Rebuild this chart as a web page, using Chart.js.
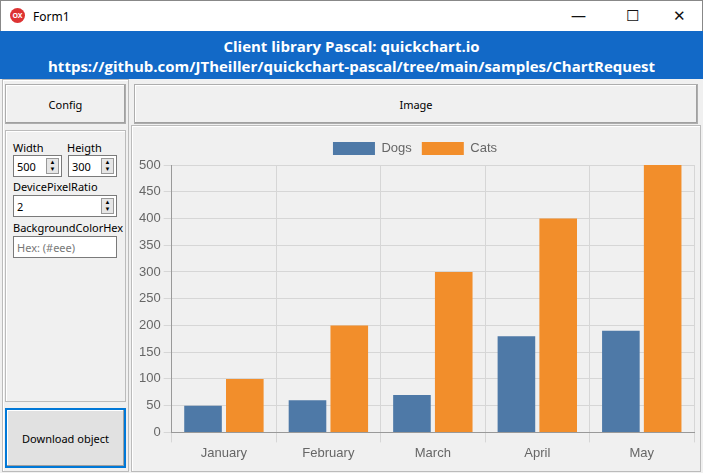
<!DOCTYPE html>
<html>
<head>
<meta charset="utf-8">
<script src="https://cdn.jsdelivr.net/npm/chart.js@4"></script>
<style>
body { margin:0; width:703px; height:473px; background:#f0f0f0; font-family:"Segoe UI","Noto Sans",sans-serif; font-size:12px; position:relative; overflow:hidden; }
.abs { position:absolute; box-sizing:border-box; }
#titlebar { left:0; top:0; width:703px; height:31px; background:#fff; border:1px solid #888; border-bottom:none; }
#titlebar .t { position:absolute; left:32px; top:7px; font-size:12px; }
#titlebar .ic { position:absolute; left:9px; top:7px; width:15px; height:15px; border-radius:50%; background:#d33; color:#fff; font-size:7px; text-align:center; line-height:15px; font-weight:bold; }
#titlebar .ctl { position:absolute; top:4px; font-size:15px; color:#111; }
#header { left:0; top:31px; width:703px; height:48px; background:#1269c7; color:#fff; text-align:center; font-weight:bold; font-size:15px; line-height:20px; padding-top:5px; font-family:"Open Sans","Noto Sans",sans-serif; }
.btn { background:#f0f0f0; border:1px solid #adadad; box-shadow: inset -1px -1px #a0a0a0, inset 1px 1px #fff; text-align:center; }
.panel { border:1px solid #bbb; box-shadow: inset 1px 1px #fff; }
.lbl { position:absolute; font-size:11px; }
.inp { position:absolute; height:22px; background:#fff; border:1px solid #7a7a7a; font-size:11px; padding:3px 3px; box-sizing:border-box; }
.spin { position:absolute; right:2px; top:2px; width:13px; height:16px; background:#e6e6e6; border:1px solid #999; box-sizing:border-box; font-size:6px; line-height:7px; text-align:center; }
</style>
</head>
<body>
<div id="titlebar" class="abs"><div class="ic">OX</div><div class="t">Form1</div>
<div class="ctl" style="left:570px">&#8212;</div><div class="ctl" style="left:625px">&#9744;</div><div class="ctl" style="left:672px">&#10005;</div></div>
<div id="header" class="abs">Client library Pascal: quickchart.io<br>https://github.com/JTheiller/quickchart-pascal/tree/main/samples/ChartRequest</div>
<div class="abs panel" style="left:2px;top:79px;width:127px;height:393px;"></div>
<div class="abs btn" style="left:5px;top:84px;width:121px;height:40px;line-height:40px;font-size:11px;">Config</div>
<div class="abs panel" style="left:5px;top:130px;width:121px;height:272px;">
  <div class="lbl" style="left:7px;top:9px">Width</div><div class="lbl" style="left:61px;top:9px">Heigth</div>
  <div class="inp" style="left:7px;top:24px;width:49px">500<div class="spin">▲<br>▼</div></div>
  <div class="inp" style="left:62px;top:24px;width:49px">300<div class="spin">▲<br>▼</div></div>
  <div class="lbl" style="left:7px;top:48px">DevicePixelRatio</div>
  <div class="inp" style="left:7px;top:64px;width:104px">2<div class="spin">▲<br>▼</div></div>
  <div class="lbl" style="left:7px;top:89px">BackgroundColorHex</div>
  <div class="inp" style="left:7px;top:105px;width:104px;color:#777">Hex: (#eee)</div>
</div>
<div class="abs btn" style="left:5px;top:408px;width:121px;height:60px;line-height:58px;font-size:11px;border:2px solid #0078d7;background:#e1e1e1;">Download object</div>
<div class="abs btn" style="left:134px;top:84px;width:564px;height:40px;line-height:40px;font-size:11px;">Image</div>
<div class="abs panel" style="left:131px;top:125px;width:570px;height:347px;"></div>
<div class="abs" style="left:134px;top:130px;width:564px;height:340px;"><canvas id="c"></canvas></div>
<script>
const labels = ['January', 'February', 'March', 'April', 'May'];
const dogs = [50, 60, 70, 180, 190];
const cats = [100, 200, 300, 400, 500];
const yTicks = [0, 50, 100, 150, 200, 250, 300, 350, 400, 450, 500];

Chart.defaults.font.family = '"Liberation Sans", Arial, sans-serif';
Chart.defaults.font.size = 13;
Chart.defaults.color = '#666';

new Chart(document.getElementById('c'), {
  type: 'bar',
  data: {
    labels: labels,
    datasets: [
      { label: 'Dogs', data: dogs, backgroundColor: '#4e79a7' },
      { label: 'Cats', data: cats, backgroundColor: '#f28e2b' }
    ]
  },
  options: {
    responsive: true,
    maintainAspectRatio: false,
    animation: false,
    layout: { padding: { left: 2, right: 4, top: 2, bottom: 6 } },
    datasets: { bar: { categoryPercentage: 0.8, barPercentage: 0.9 } },
    plugins: {
      legend: { position: 'top', labels: { boxWidth: 42, boxHeight: 13, font: { size: 13 } } },
      tooltip: { enabled: false }
    },
    scales: {
      x: {
        grid: { color: '#d6d6d6', offset: true, tickLength: 10 },
        border: { color: '#999' }
      },
      y: {
        min: 0, max: 500,
        afterBuildTicks: s => { s.ticks = yTicks.map(v => ({ value: v })); },
        grid: { color: '#d6d6d6', tickLength: 8 },
        border: { color: '#999' }
      }
    }
  }
});
</script>
</body>
</html>
